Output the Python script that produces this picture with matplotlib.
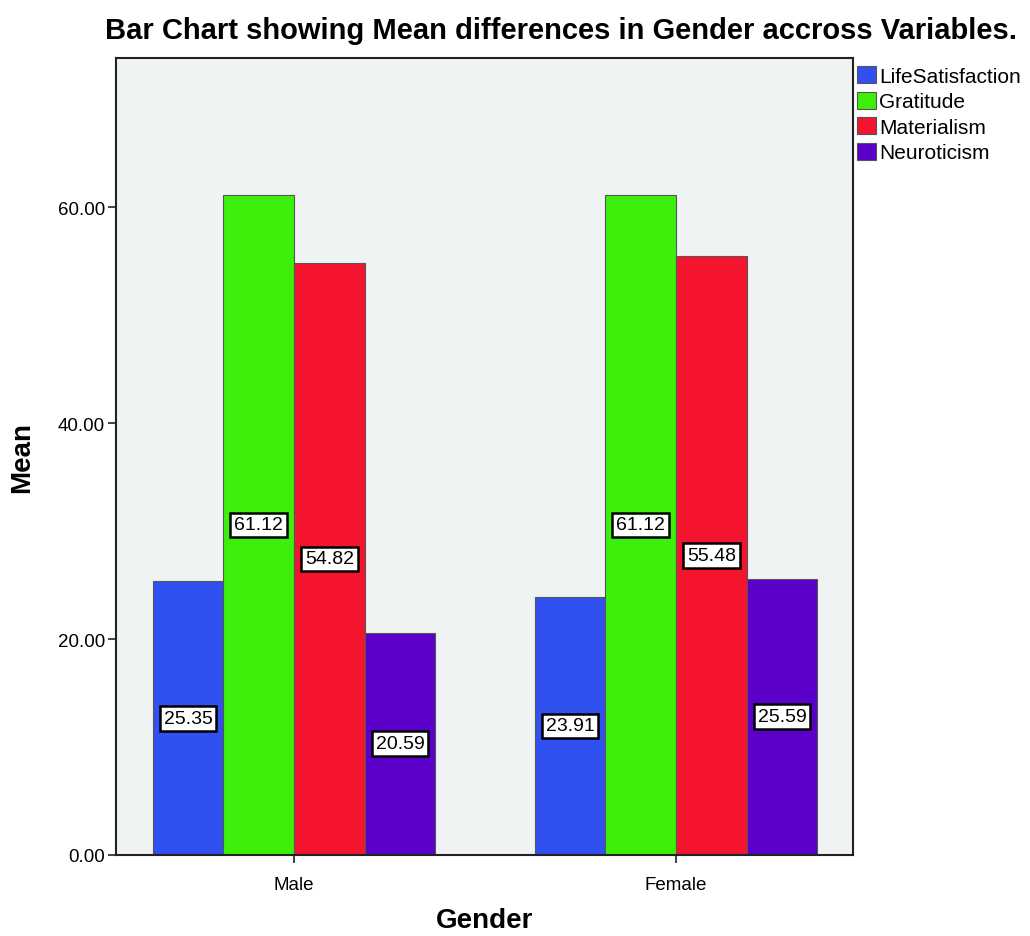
import matplotlib.pyplot as plt
import numpy as np

plt.rcParams['font.family'] = ['Liberation Sans', 'DejaVu Sans']

# data
genders = ['Male', 'Female']
variables = ['LifeSatisfaction', 'Gratitude', 'Materialism', 'Neuroticism']
means = {
    'LifeSatisfaction': [25.35, 23.91],
    'Gratitude': [61.12, 61.12],
    'Materialism': [54.82, 55.48],
    'Neuroticism': [20.59, 25.59],
}
colors = ['#3050F0', '#3CF00C', '#F5142E', '#5A00C8']
y_ticks = [0, 20, 40, 60]

fig = plt.figure(figsize=(10.3, 9.37), dpi=100)
ax = fig.add_axes([116 / 1030, 1 - 856 / 937, (853 - 116) / 1030, (856 - 59) / 937])
ax.set_facecolor('#F0F3F4')

x = np.arange(len(genders))
width = 0.185
for i, var in enumerate(variables):
    pos = x + (i - 1.5) * width
    vals = means[var]
    ax.bar(pos, vals, width, color=colors[i], edgecolor='#555555', linewidth=0.8,
           label=var, zorder=2)
    for p, v in zip(pos, vals):
        ax.text(p, v / 2, f"{v:.2f}", ha='center', va='center', fontsize=14, zorder=3,
                bbox=dict(boxstyle='square,pad=0.2', facecolor='white',
                          edgecolor='black', linewidth=1.8))

ax.set_xlim(-0.466, 1.463)
ax.set_ylim(0, 73.8)
ax.set_xticks(x)
ax.set_xticklabels(genders, fontsize=13.5)
ax.set_yticks(y_ticks)
ax.set_yticklabels([f"{t:.2f}" for t in y_ticks], fontsize=13.5)
ax.tick_params(direction='out', length=6, width=1.2, color='#222222')
ax.tick_params(axis='x', pad=9)
ax.tick_params(axis='y', pad=2)

for s in ax.spines.values():
    s.set_linewidth(1.5)
    s.set_color('#222222')

ax.set_xlabel('Gender', fontsize=20, fontweight='bold', labelpad=10)
ax.set_ylabel('Mean', fontsize=20, fontweight='bold', labelpad=16)

fig.text(561 / 1030, 1 - 31 / 937, 'Bar Chart showing Mean differences in Gender accross Variables.',
         ha='center', va='center', fontsize=21, fontweight='bold')

ax.legend(loc='upper left', bbox_to_anchor=(1.0, 0.995), frameon=False, fontsize=15,
          handlelength=0.9, handleheight=0.9, handletextpad=0.15, labelspacing=0.27,
          borderaxespad=0.2, borderpad=0.0)

fig.savefig('out.png', dpi=100)
